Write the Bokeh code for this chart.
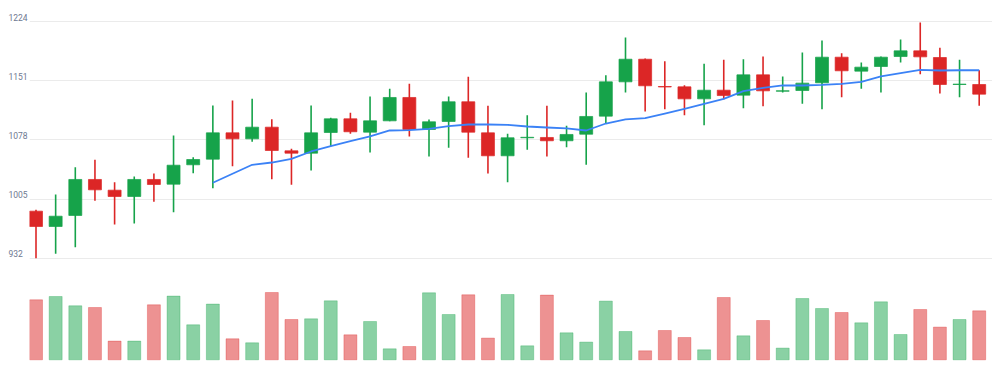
from bokeh.plotting import figure
from bokeh.layouts import row
from bokeh.models import Range1d, FixedTicker, ColumnDataSource, Label
from bokeh.embed import file_html
from bokeh.resources import INLINE

# ---- data ----
opens = [990.1, 971.2, 984.8, 1029.2, 1016.0, 1008.2, 1029.2, 1023.4, 1047.3, 1054.2,
         1086.7, 1079.3, 1093.7, 1064.5, 1061.6, 1087.1, 1104.0, 1087.5, 1101.5, 1130.3,
         1090.8, 1100.7, 1125.0, 1086.7, 1058.4, 1080.6, 1081.0, 1076.9, 1085.0, 1107.3,
         1149.6, 1177.5, 1143.8, 1143.4, 1128.6, 1139.3, 1133.2, 1158.2, 1138.1, 1138.9,
         1148.4, 1180.0, 1162.8, 1168.5, 1180.8, 1187.8, 1179.6, 1146.3, 1146.3]
closes = [971.2, 983.9, 1029.2, 1016.4, 1008.2, 1029.2, 1023.0, 1046.8, 1053.8, 1086.7,
          1079.3, 1093.7, 1064.9, 1061.6, 1086.7, 1104.0, 1088.0, 1101.5, 1130.3, 1090.8,
          1100.3, 1125.0, 1087.5, 1058.4, 1080.6, 1081.2, 1076.9, 1084.7, 1106.9, 1149.6,
          1177.5, 1144.7, 1143.3, 1128.6, 1139.3, 1132.7, 1158.2, 1138.5, 1138.5, 1148.0,
          1180.0, 1163.2, 1167.7, 1180.0, 1187.8, 1180.4, 1146.3, 1146.8, 1134.4]
highs = [991.8, 1010.7, 1044.4, 1053.4, 1025.9, 1032.9, 1036.6, 1083.4, 1056.7, 1120.4,
         1126.6, 1128.6, 1103.6, 1067.0, 1120.4, 1105.2, 1111.4, 1131.5, 1141.0, 1147.1,
         1103.2, 1131.5, 1155.8, 1120.0, 1085.5, 1108.5, 1120.0, 1095.4, 1136.5, 1157.8,
         1204.3, 1178.4, 1175.1, 1145.5, 1171.8, 1176.7, 1177.5, 1180.8, 1156.2, 1185.8,
         1200.6, 1184.9, 1173.4, 1180.8, 1201.8, 1222.8, 1191.5, 1176.7, 1164.0]
lows = [932.1, 937.5, 945.7, 1002.9, 973.7, 974.9, 1001.6, 988.9, 1037.0, 1018.5,
        1045.6, 1075.6, 1029.6, 1022.6, 1040.3, 1070.3, 1085.5, 1062.5, 1101.0, 1082.2,
        1057.5, 1068.2, 1055.9, 1036.6, 1025.9, 1065.8, 1057.5, 1069.0, 1047.3, 1097.8,
        1136.5, 1113.0, 1115.9, 1108.5, 1096.2, 1128.2, 1117.1, 1119.6, 1136.5, 1122.5,
        1115.9, 1130.7, 1141.0, 1136.5, 1173.4, 1159.1, 1135.2, 1130.7, 1120.0]
ma_start = 9
ma_values = [1025.1, 1036.2, 1047.3, 1050.1, 1054.7, 1063.7, 1070.2, 1076.4, 1082.2, 1089.6,
             1090.0, 1091.7, 1094.9, 1097.0, 1097.0, 1096.6, 1094.5, 1093.3, 1092.1, 1089.6,
             1098.2, 1103.2, 1104.8, 1110.5, 1116.3, 1122.5, 1128.6, 1138.1, 1142.2, 1145.1,
             1145.1, 1145.9, 1147.2, 1149.6, 1156.2, 1160.3, 1164.4, 1163.6, 1163.9, 1163.9]
volumes = [60, 63.3, 54, 52.3, 18.7, 18.7, 55, 63.7, 35, 55.7,
           21, 17, 67.3, 40.3, 41, 59, 25, 38.3, 11, 13.3,
           67, 45.3, 65, 21.7, 65.3, 14, 64.7, 27, 17.7, 58.7,
           28.3, 9, 29.3, 22.3, 10, 62.3, 24, 39.3, 11.7, 61.3,
           51.3, 47.3, 37, 58, 25.3, 50.3, 32.7, 40.3, 49]
price_ticks = [932, 1005, 1078, 1151, 1224]

# ---- styling ----
GREEN = "#16a34a"
RED = "#dc2626"
BLUE = "#3b82f6"

n = len(opens)
xs = list(range(n))
up = [c >= o for o, c in zip(opens, closes)]
colors = [GREEN if u else RED for u in up]

src = ColumnDataSource(dict(
    x=xs, open=opens, close=closes, high=highs, low=lows,
    top=[max(o, c) for o, c in zip(opens, closes)],
    bottom=[min(o, c) for o, c in zip(opens, closes)],
    vol=volumes, color=colors,
))

yr = Range1d(797.3, 1249.9)

p = figure(width=963, height=367, output_backend="svg", toolbar_location=None,
           x_axis_location=None, y_axis_location=None,
           x_range=Range1d(-0.331, 48.677), y_range=yr,
           min_border_left=0, min_border_right=0, min_border_top=0, min_border_bottom=0)
p.extra_y_ranges = {"vol": Range1d(-7.7, 359.3)}
p.outline_line_color = None
p.background_fill_color = "white"
p.border_fill_color = "white"
p.xgrid.grid_line_color = None
p.ygrid.ticker = FixedTicker(ticks=price_ticks)
p.ygrid.grid_line_color = "#ebebeb"
p.ygrid.grid_line_width = 1

# volume bars
p.vbar(x="x", width=0.66, top="vol", bottom=0, source=src, y_range_name="vol",
       fill_color="color", fill_alpha=0.5, line_color="color", line_alpha=0.3)

# wicks and bodies
p.segment(x0="x", y0="high", x1="x", y1="low", source=src, line_color="color", line_width=1.6)
p.vbar(x="x", width=0.66, top="top", bottom="bottom", source=src,
       fill_color="color", line_color="color", line_alpha=0.7, line_width=1)

# moving average
p.line(xs[ma_start:], ma_values, line_color=BLUE, line_width=1.8)

# narrow label column sharing the price scale
lab = figure(width=29, height=367, output_backend="svg", toolbar_location=None,
             x_axis_location=None, y_axis_location=None,
             x_range=Range1d(0, 1), y_range=yr,
             min_border_left=0, min_border_right=0, min_border_top=0, min_border_bottom=0)
lab.outline_line_color = None
lab.xgrid.grid_line_color = None
lab.ygrid.grid_line_color = None
for t in price_ticks:
    lab.add_layout(Label(x=8, x_units="screen", y=t, y_units="data", text=str(t),
                         text_font="Roboto", text_font_size="8.5px", text_color="#6e7891",
                         text_align="left", text_baseline="bottom", y_offset=1))

layout = row(lab, p, spacing=0)
open("out.html", "w").write(file_html(layout, INLINE))
